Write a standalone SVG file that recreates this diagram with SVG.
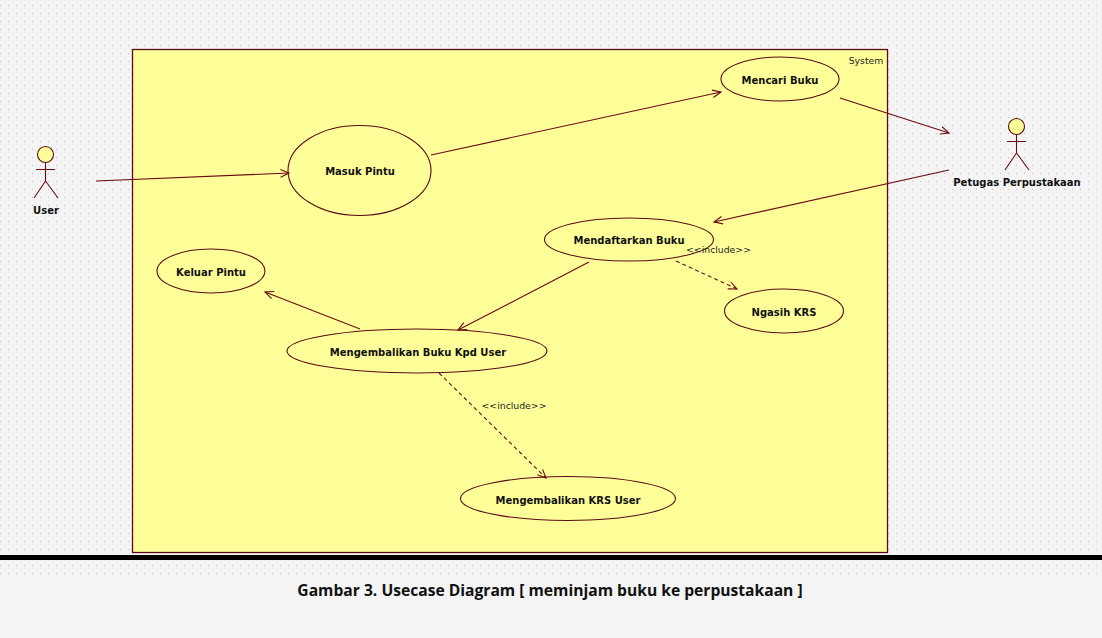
<svg xmlns="http://www.w3.org/2000/svg" width="1102" height="638" viewBox="0 0 1102 638">
<style>
.u{fill:#ffff99;stroke:#5a0a14;stroke-width:1.1}
.c{fill:none;stroke:#6b0a14;stroke-width:1.1}
.d{stroke-dasharray:4 3}
.t{font-family:"DejaVu Sans",sans-serif;font-size:10px;font-weight:bold;fill:#111;text-anchor:middle}
.l{font-family:"DejaVu Sans",sans-serif;font-size:9.300px;fill:#222;text-anchor:middle}
</style>
<defs>
<pattern id="g" width="8" height="8" patternUnits="userSpaceOnUse"><rect x="0" y="5" width="1" height="1" fill="#bcbcbc"/></pattern>
<marker id="a" markerUnits="userSpaceOnUse" markerWidth="12" markerHeight="10" refX="10" refY="5" orient="auto"><path d="M1.500 1.200L10 5L1.500 8.800" fill="none" stroke="#6b0a14" stroke-width="1.1"/></marker>
</defs>
<rect width="1102" height="638" fill="#f4f4f4"/>
<rect width="1102" height="575" fill="url(#g)"/>
<g id="system"><rect x="132.500" y="49.500" width="755" height="503" fill="#ffff99" stroke="#5a0a14" stroke-width="1.300"/><text x="866" y="64" class="l">System</text></g>
<g id="footer"><rect x="0" y="555" width="1102" height="5" fill="#000"/><text x="550" y="595.500" font-family="Open Sans,sans-serif" font-weight="bold" font-size="15.630px" fill="#111" text-anchor="middle">Gambar 3. Usecase Diagram [ meminjam buku ke perpustakaan ]</text></g>
<g id="user"><circle cx="45.500" cy="154.500" r="8" class="u"/><path class="c" d="M45.500 162.500V181M36 169.500H55M45.500 181L34 198M45.500 181L58 198"/><text x="46" y="214" class="t">User</text></g>
<g id="petugas"><circle cx="1016.500" cy="126.500" r="8" class="u"/><path class="c" d="M1016.500 134.500V153M1007 141.500H1026M1016.500 153L1005 170M1016.500 153L1029 170"/><text x="1017" y="186" class="t">Petugas Perpustakaan</text></g>
<g id="masuk"><ellipse cx="359.500" cy="170.500" rx="71.500" ry="45" class="u"/><text x="360" y="175" class="t">Masuk Pintu</text></g>
<g id="mencari"><ellipse cx="780" cy="79" rx="59" ry="22" class="u"/><text x="780" y="84" class="t">Mencari Buku</text></g>
<g id="mendaftarkan"><ellipse cx="629" cy="239.500" rx="84.500" ry="21.500" class="u"/><text x="629" y="244" class="t">Mendaftarkan Buku</text></g>
<g id="keluar"><ellipse cx="211" cy="271" rx="54" ry="22" class="u"/><text x="211" y="276" class="t">Keluar Pintu</text></g>
<g id="ngasih"><ellipse cx="784" cy="311" rx="59.500" ry="22" class="u"/><text x="784" y="316" class="t">Ngasih KRS</text></g>
<g id="mengembalikan-buku"><ellipse cx="417" cy="351" rx="130" ry="22" class="u"/><text x="418" y="356" class="t">Mengembalikan Buku Kpd User</text></g>
<g id="mengembalikan-krs"><ellipse cx="568" cy="498.500" rx="107.500" ry="22" class="u"/><text x="568" y="504" class="t">Mengembalikan KRS User</text></g>
<g id="connectors">
<path class="c" marker-end="url(#a)" d="M96 181L289 173"/>
<path class="c" marker-end="url(#a)" d="M431 155L721 92"/>
<path class="c" marker-end="url(#a)" d="M840 98L949 133"/>
<path class="c" marker-end="url(#a)" d="M949 170L714 222"/>
<path class="c" marker-end="url(#a)" d="M589 262L458 330"/>
<path class="c" marker-end="url(#a)" d="M360 329L265 292"/>
<path class="c d" marker-end="url(#a)" d="M676 261L737 289"/>
<path class="c d" marker-end="url(#a)" d="M439 373L546 478"/>
<text x="718.500" y="253" class="l">&lt;&lt;include&gt;&gt;</text>
<text x="514" y="409" class="l">&lt;&lt;include&gt;&gt;</text>
</g>
</svg>
